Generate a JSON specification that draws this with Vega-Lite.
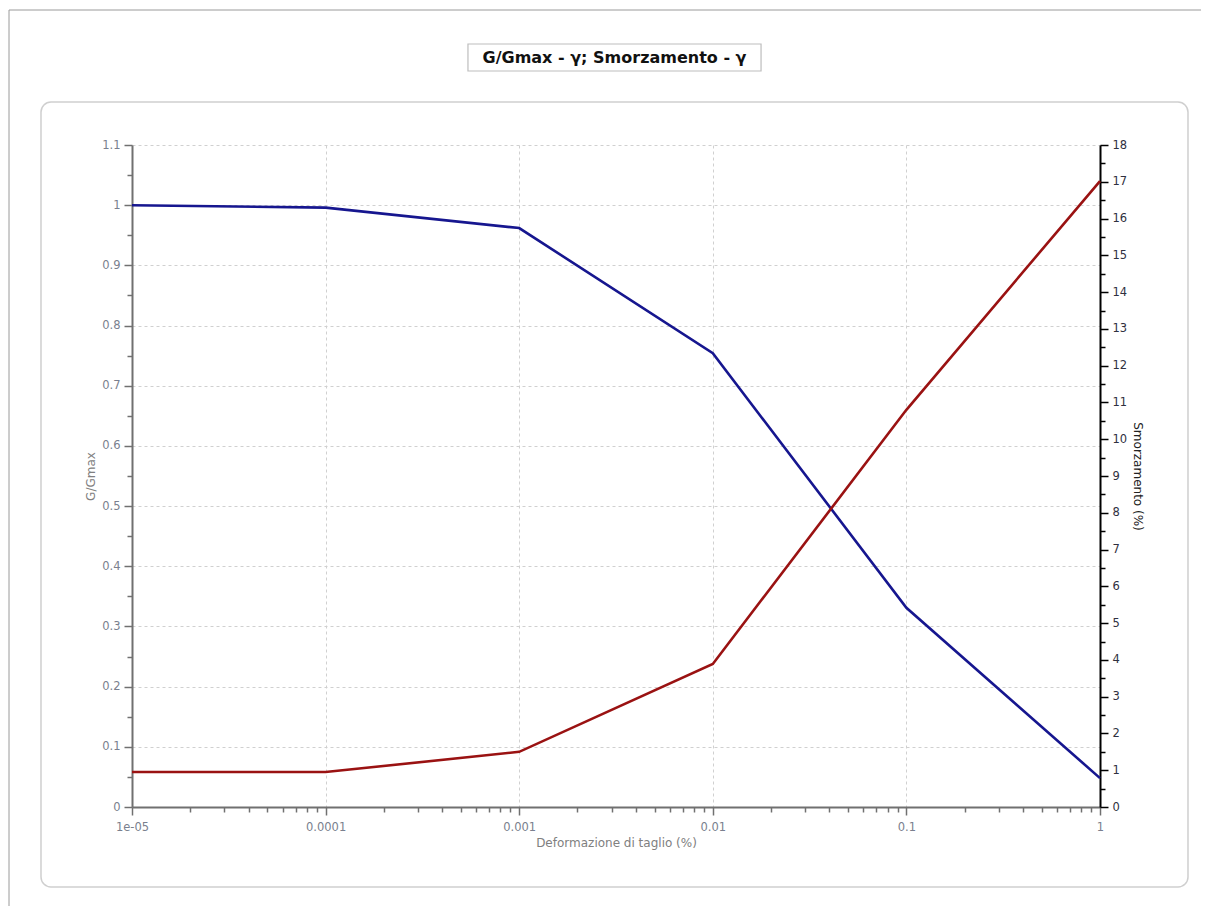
{
  "$schema": "https://vega.github.io/schema/vega-lite/v6.json",
  "padding": {"left": 8, "top": 9, "right": 5, "bottom": 4},
  "width": 968,
  "height": 662,
  "config": {"view": {"stroke": null}, "font": "DejaVu Sans"},
  "data": {"values": [
    {"gamma": 0.00001, "G": 1.0, "D": 0.95},
    {"gamma": 0.0001, "G": 0.996, "D": 0.95},
    {"gamma": 0.001, "G": 0.962, "D": 1.5},
    {"gamma": 0.01, "G": 0.754, "D": 3.89},
    {"gamma": 0.1, "G": 0.331, "D": 10.8},
    {"gamma": 1, "G": 0.048, "D": 17.02}
  ]},
  "layer": [
    {
      "layer": [
        {
          "data": {"values": [{}]},
          "mark": {"type": "rule", "color": "#9a9a9a", "strokeWidth": 1, "clip": false},
          "encoding": {
            "x": {"datum": 0.000002316, "type": "quantitative", "scale": {"type": "log", "domain": [0.00001, 1]},
              "axis": {"title": "Deformazione di taglio (%)", "values": [0.00001, 0.00002, 0.00003, 0.00004, 0.00005, 0.00006, 0.00007, 0.00008, 0.00009, 0.0001, 0.0002, 0.0003, 0.0004, 0.0005, 0.0006, 0.0007, 0.0008, 0.0009, 0.001, 0.002, 0.003, 0.004, 0.005, 0.006, 0.007, 0.008, 0.009, 0.01, 0.02, 0.03, 0.04, 0.05, 0.06, 0.07, 0.08, 0.09, 0.1, 0.2, 0.3, 0.4, 0.5, 0.6, 0.7, 0.8, 0.9, 1], "labelExpr": "abs(log(datum.value)/LN10 - round(log(datum.value)/LN10)) < 0.000001 ? (datum.value < 0.00005 ? '1e-05' : toString(datum.value)) : ''", "labelFontSize": 11.5, "labelColor": "#7a7f8e", "labelPadding": 6, "labelFlush": false, "titleFontSize": 12, "titleFontWeight": "normal", "titleColor": "#808080", "titlePadding": 5, "domainColor": "#707070", "domainWidth": 2, "tickColor": "#707070", "tickWidth": 1.5, "tickSize": {"condition": {"test": "abs(log(datum.value)/LN10 - round(log(datum.value)/LN10)) < 0.000001", "value": 8}, "value": 5}, "grid": true, "gridColor": "#d0d0d0", "gridDash": [3, 3], "gridWidth": 1, "gridOpacity": {"condition": {"test": "abs(log(datum.value)/LN10 - round(log(datum.value)/LN10)) < 0.000001", "value": 1}, "value": 0}}},
            "x2": {"datum": 3.325},
            "y": {"datum": 1.3243, "type": "quantitative", "scale": {"domain": [0, 1.1], "nice": false, "zero": false},
              "axis": {"title": "G/Gmax", "values": [0, 0.05, 0.1, 0.15, 0.2, 0.25, 0.3, 0.35, 0.4, 0.45, 0.5, 0.55, 0.6, 0.65, 0.7, 0.75, 0.8, 0.85, 0.9, 0.95, 1, 1.05, 1.1], "format": "~g", "labelExpr": "abs(datum.value*10 - round(datum.value*10)) < 0.000001 ? datum.label : ''", "labelFontSize": 11.5, "labelColor": "#7a7f8e", "labelPadding": 4, "titleFontSize": 12, "titleFontWeight": "normal", "titleColor": "#808080", "titlePadding": 4, "domainColor": "#707070", "domainWidth": 2, "tickColor": "#707070", "tickWidth": 1.5, "tickSize": {"condition": {"test": "abs(datum.value*10 - round(datum.value*10)) < 0.000001", "value": 8}, "value": 5}, "grid": true, "gridColor": "#d0d0d0", "gridDash": [3, 3], "gridWidth": 1, "gridOpacity": {"condition": {"test": "abs(datum.value*10 - round(datum.value*10)) < 0.000001", "value": 1}, "value": 0}}}
          }
        },
        {
          "data": {"values": [{}]},
          "mark": {"type": "rule", "color": "#9a9a9a", "strokeWidth": 1, "clip": false},
          "encoding": {
            "x": {"datum": 0.000002316, "type": "quantitative", "scale": {"type": "log", "domain": [0.00001, 1]},
              "axis": {"title": "Deformazione di taglio (%)", "values": [0.00001, 0.00002, 0.00003, 0.00004, 0.00005, 0.00006, 0.00007, 0.00008, 0.00009, 0.0001, 0.0002, 0.0003, 0.0004, 0.0005, 0.0006, 0.0007, 0.0008, 0.0009, 0.001, 0.002, 0.003, 0.004, 0.005, 0.006, 0.007, 0.008, 0.009, 0.01, 0.02, 0.03, 0.04, 0.05, 0.06, 0.07, 0.08, 0.09, 0.1, 0.2, 0.3, 0.4, 0.5, 0.6, 0.7, 0.8, 0.9, 1], "labelExpr": "abs(log(datum.value)/LN10 - round(log(datum.value)/LN10)) < 0.000001 ? (datum.value < 0.00005 ? '1e-05' : toString(datum.value)) : ''", "labelFontSize": 11.5, "labelColor": "#7a7f8e", "labelPadding": 6, "labelFlush": false, "titleFontSize": 12, "titleFontWeight": "normal", "titleColor": "#808080", "titlePadding": 5, "domainColor": "#707070", "domainWidth": 2, "tickColor": "#707070", "tickWidth": 1.5, "tickSize": {"condition": {"test": "abs(log(datum.value)/LN10 - round(log(datum.value)/LN10)) < 0.000001", "value": 8}, "value": 5}, "grid": true, "gridColor": "#d0d0d0", "gridDash": [3, 3], "gridWidth": 1, "gridOpacity": {"condition": {"test": "abs(log(datum.value)/LN10 - round(log(datum.value)/LN10)) < 0.000001", "value": 1}, "value": 0}}},
            "y": {"datum": 1.3243, "type": "quantitative", "scale": {"domain": [0, 1.1], "nice": false, "zero": false},
              "axis": {"title": "G/Gmax", "values": [0, 0.05, 0.1, 0.15, 0.2, 0.25, 0.3, 0.35, 0.4, 0.45, 0.5, 0.55, 0.6, 0.65, 0.7, 0.75, 0.8, 0.85, 0.9, 0.95, 1, 1.05, 1.1], "format": "~g", "labelExpr": "abs(datum.value*10 - round(datum.value*10)) < 0.000001 ? datum.label : ''", "labelFontSize": 11.5, "labelColor": "#7a7f8e", "labelPadding": 4, "titleFontSize": 12, "titleFontWeight": "normal", "titleColor": "#808080", "titlePadding": 4, "domainColor": "#707070", "domainWidth": 2, "tickColor": "#707070", "tickWidth": 1.5, "tickSize": {"condition": {"test": "abs(datum.value*10 - round(datum.value*10)) < 0.000001", "value": 8}, "value": 5}, "grid": true, "gridColor": "#d0d0d0", "gridDash": [3, 3], "gridWidth": 1, "gridOpacity": {"condition": {"test": "abs(datum.value*10 - round(datum.value*10)) < 0.000001", "value": 1}, "value": 0}}},
            "y2": {"datum": -0.1645}
          }
        },
        {
          "data": {"values": [{}]},
          "mark": {"type": "rect", "filled": false, "stroke": "#cfcfcf", "strokeWidth": 1.5, "cornerRadius": 10, "clip": false},
          "encoding": {
            "x": {"datum": 0.000003388, "type": "quantitative", "scale": {"type": "log", "domain": [0.00001, 1]},
              "axis": {"title": "Deformazione di taglio (%)", "values": [0.00001, 0.00002, 0.00003, 0.00004, 0.00005, 0.00006, 0.00007, 0.00008, 0.00009, 0.0001, 0.0002, 0.0003, 0.0004, 0.0005, 0.0006, 0.0007, 0.0008, 0.0009, 0.001, 0.002, 0.003, 0.004, 0.005, 0.006, 0.007, 0.008, 0.009, 0.01, 0.02, 0.03, 0.04, 0.05, 0.06, 0.07, 0.08, 0.09, 0.1, 0.2, 0.3, 0.4, 0.5, 0.6, 0.7, 0.8, 0.9, 1], "labelExpr": "abs(log(datum.value)/LN10 - round(log(datum.value)/LN10)) < 0.000001 ? (datum.value < 0.00005 ? '1e-05' : toString(datum.value)) : ''", "labelFontSize": 11.5, "labelColor": "#7a7f8e", "labelPadding": 6, "labelFlush": false, "titleFontSize": 12, "titleFontWeight": "normal", "titleColor": "#808080", "titlePadding": 5, "domainColor": "#707070", "domainWidth": 2, "tickColor": "#707070", "tickWidth": 1.5, "tickSize": {"condition": {"test": "abs(log(datum.value)/LN10 - round(log(datum.value)/LN10)) < 0.000001", "value": 8}, "value": 5}, "grid": true, "gridColor": "#d0d0d0", "gridDash": [3, 3], "gridWidth": 1, "gridOpacity": {"condition": {"test": "abs(log(datum.value)/LN10 - round(log(datum.value)/LN10)) < 0.000001", "value": 1}, "value": 0}}},
            "x2": {"datum": 2.848},
            "y": {"datum": 1.1714, "type": "quantitative", "scale": {"domain": [0, 1.1], "nice": false, "zero": false},
              "axis": {"title": "G/Gmax", "values": [0, 0.05, 0.1, 0.15, 0.2, 0.25, 0.3, 0.35, 0.4, 0.45, 0.5, 0.55, 0.6, 0.65, 0.7, 0.75, 0.8, 0.85, 0.9, 0.95, 1, 1.05, 1.1], "format": "~g", "labelExpr": "abs(datum.value*10 - round(datum.value*10)) < 0.000001 ? datum.label : ''", "labelFontSize": 11.5, "labelColor": "#7a7f8e", "labelPadding": 4, "titleFontSize": 12, "titleFontWeight": "normal", "titleColor": "#808080", "titlePadding": 4, "domainColor": "#707070", "domainWidth": 2, "tickColor": "#707070", "tickWidth": 1.5, "tickSize": {"condition": {"test": "abs(datum.value*10 - round(datum.value*10)) < 0.000001", "value": 8}, "value": 5}, "grid": true, "gridColor": "#d0d0d0", "gridDash": [3, 3], "gridWidth": 1, "gridOpacity": {"condition": {"test": "abs(datum.value*10 - round(datum.value*10)) < 0.000001", "value": 1}, "value": 0}}},
            "y2": {"datum": -0.1329}
          }
        },
        {
          "data": {"values": [{}]},
          "mark": {"type": "rect", "fill": "#ffffff", "stroke": "#bdbdbd", "strokeWidth": 1.2, "clip": false},
          "encoding": {
            "x": {"datum": 0.0005437, "type": "quantitative", "scale": {"type": "log", "domain": [0.00001, 1]},
              "axis": {"title": "Deformazione di taglio (%)", "values": [0.00001, 0.00002, 0.00003, 0.00004, 0.00005, 0.00006, 0.00007, 0.00008, 0.00009, 0.0001, 0.0002, 0.0003, 0.0004, 0.0005, 0.0006, 0.0007, 0.0008, 0.0009, 0.001, 0.002, 0.003, 0.004, 0.005, 0.006, 0.007, 0.008, 0.009, 0.01, 0.02, 0.03, 0.04, 0.05, 0.06, 0.07, 0.08, 0.09, 0.1, 0.2, 0.3, 0.4, 0.5, 0.6, 0.7, 0.8, 0.9, 1], "labelExpr": "abs(log(datum.value)/LN10 - round(log(datum.value)/LN10)) < 0.000001 ? (datum.value < 0.00005 ? '1e-05' : toString(datum.value)) : ''", "labelFontSize": 11.5, "labelColor": "#7a7f8e", "labelPadding": 6, "labelFlush": false, "titleFontSize": 12, "titleFontWeight": "normal", "titleColor": "#808080", "titlePadding": 5, "domainColor": "#707070", "domainWidth": 2, "tickColor": "#707070", "tickWidth": 1.5, "tickSize": {"condition": {"test": "abs(log(datum.value)/LN10 - round(log(datum.value)/LN10)) < 0.000001", "value": 8}, "value": 5}, "grid": true, "gridColor": "#d0d0d0", "gridDash": [3, 3], "gridWidth": 1, "gridOpacity": {"condition": {"test": "abs(log(datum.value)/LN10 - round(log(datum.value)/LN10)) < 0.000001", "value": 1}, "value": 0}}},
            "x2": {"datum": 0.01775},
            "y": {"datum": 1.2678, "type": "quantitative", "scale": {"domain": [0, 1.1], "nice": false, "zero": false},
              "axis": {"title": "G/Gmax", "values": [0, 0.05, 0.1, 0.15, 0.2, 0.25, 0.3, 0.35, 0.4, 0.45, 0.5, 0.55, 0.6, 0.65, 0.7, 0.75, 0.8, 0.85, 0.9, 0.95, 1, 1.05, 1.1], "format": "~g", "labelExpr": "abs(datum.value*10 - round(datum.value*10)) < 0.000001 ? datum.label : ''", "labelFontSize": 11.5, "labelColor": "#7a7f8e", "labelPadding": 4, "titleFontSize": 12, "titleFontWeight": "normal", "titleColor": "#808080", "titlePadding": 4, "domainColor": "#707070", "domainWidth": 2, "tickColor": "#707070", "tickWidth": 1.5, "tickSize": {"condition": {"test": "abs(datum.value*10 - round(datum.value*10)) < 0.000001", "value": 8}, "value": 5}, "grid": true, "gridColor": "#d0d0d0", "gridDash": [3, 3], "gridWidth": 1, "gridOpacity": {"condition": {"test": "abs(datum.value*10 - round(datum.value*10)) < 0.000001", "value": 1}, "value": 0}}},
            "y2": {"datum": 1.2230}
          }
        },
        {
          "data": {"values": [{}]},
          "mark": {"type": "text", "text": "G/Gmax - γ; Smorzamento - γ", "font": "DejaVu Sans", "fontWeight": "bold", "fontSize": 16, "color": "#111111", "align": "center", "baseline": "middle", "clip": false},
          "encoding": {
            "x": {"datum": 0.003107, "type": "quantitative", "scale": {"type": "log", "domain": [0.00001, 1]},
              "axis": {"title": "Deformazione di taglio (%)", "values": [0.00001, 0.00002, 0.00003, 0.00004, 0.00005, 0.00006, 0.00007, 0.00008, 0.00009, 0.0001, 0.0002, 0.0003, 0.0004, 0.0005, 0.0006, 0.0007, 0.0008, 0.0009, 0.001, 0.002, 0.003, 0.004, 0.005, 0.006, 0.007, 0.008, 0.009, 0.01, 0.02, 0.03, 0.04, 0.05, 0.06, 0.07, 0.08, 0.09, 0.1, 0.2, 0.3, 0.4, 0.5, 0.6, 0.7, 0.8, 0.9, 1], "labelExpr": "abs(log(datum.value)/LN10 - round(log(datum.value)/LN10)) < 0.000001 ? (datum.value < 0.00005 ? '1e-05' : toString(datum.value)) : ''", "labelFontSize": 11.5, "labelColor": "#7a7f8e", "labelPadding": 6, "labelFlush": false, "titleFontSize": 12, "titleFontWeight": "normal", "titleColor": "#808080", "titlePadding": 5, "domainColor": "#707070", "domainWidth": 2, "tickColor": "#707070", "tickWidth": 1.5, "tickSize": {"condition": {"test": "abs(log(datum.value)/LN10 - round(log(datum.value)/LN10)) < 0.000001", "value": 8}, "value": 5}, "grid": true, "gridColor": "#d0d0d0", "gridDash": [3, 3], "gridWidth": 1, "gridOpacity": {"condition": {"test": "abs(log(datum.value)/LN10 - round(log(datum.value)/LN10)) < 0.000001", "value": 1}, "value": 0}}},
            "y": {"datum": 1.2446, "type": "quantitative", "scale": {"domain": [0, 1.1], "nice": false, "zero": false},
              "axis": {"title": "G/Gmax", "values": [0, 0.05, 0.1, 0.15, 0.2, 0.25, 0.3, 0.35, 0.4, 0.45, 0.5, 0.55, 0.6, 0.65, 0.7, 0.75, 0.8, 0.85, 0.9, 0.95, 1, 1.05, 1.1], "format": "~g", "labelExpr": "abs(datum.value*10 - round(datum.value*10)) < 0.000001 ? datum.label : ''", "labelFontSize": 11.5, "labelColor": "#7a7f8e", "labelPadding": 4, "titleFontSize": 12, "titleFontWeight": "normal", "titleColor": "#808080", "titlePadding": 4, "domainColor": "#707070", "domainWidth": 2, "tickColor": "#707070", "tickWidth": 1.5, "tickSize": {"condition": {"test": "abs(datum.value*10 - round(datum.value*10)) < 0.000001", "value": 8}, "value": 5}, "grid": true, "gridColor": "#d0d0d0", "gridDash": [3, 3], "gridWidth": 1, "gridOpacity": {"condition": {"test": "abs(datum.value*10 - round(datum.value*10)) < 0.000001", "value": 1}, "value": 0}}}
          }
        },
        {
          "mark": {"type": "line", "color": "#16168f", "strokeWidth": 2.6},
          "encoding": {
            "x": {"field": "gamma", "type": "quantitative", "scale": {"type": "log", "domain": [0.00001, 1]},
              "axis": {"title": "Deformazione di taglio (%)", "values": [0.00001, 0.00002, 0.00003, 0.00004, 0.00005, 0.00006, 0.00007, 0.00008, 0.00009, 0.0001, 0.0002, 0.0003, 0.0004, 0.0005, 0.0006, 0.0007, 0.0008, 0.0009, 0.001, 0.002, 0.003, 0.004, 0.005, 0.006, 0.007, 0.008, 0.009, 0.01, 0.02, 0.03, 0.04, 0.05, 0.06, 0.07, 0.08, 0.09, 0.1, 0.2, 0.3, 0.4, 0.5, 0.6, 0.7, 0.8, 0.9, 1], "labelExpr": "abs(log(datum.value)/LN10 - round(log(datum.value)/LN10)) < 0.000001 ? (datum.value < 0.00005 ? '1e-05' : toString(datum.value)) : ''", "labelFontSize": 11.5, "labelColor": "#7a7f8e", "labelPadding": 6, "labelFlush": false, "titleFontSize": 12, "titleFontWeight": "normal", "titleColor": "#808080", "titlePadding": 5, "domainColor": "#707070", "domainWidth": 2, "tickColor": "#707070", "tickWidth": 1.5, "tickSize": {"condition": {"test": "abs(log(datum.value)/LN10 - round(log(datum.value)/LN10)) < 0.000001", "value": 8}, "value": 5}, "grid": true, "gridColor": "#d0d0d0", "gridDash": [3, 3], "gridWidth": 1, "gridOpacity": {"condition": {"test": "abs(log(datum.value)/LN10 - round(log(datum.value)/LN10)) < 0.000001", "value": 1}, "value": 0}}},
            "y": {"field": "G", "type": "quantitative", "scale": {"domain": [0, 1.1], "nice": false, "zero": false},
              "axis": {"title": "G/Gmax", "values": [0, 0.05, 0.1, 0.15, 0.2, 0.25, 0.3, 0.35, 0.4, 0.45, 0.5, 0.55, 0.6, 0.65, 0.7, 0.75, 0.8, 0.85, 0.9, 0.95, 1, 1.05, 1.1], "format": "~g", "labelExpr": "abs(datum.value*10 - round(datum.value*10)) < 0.000001 ? datum.label : ''", "labelFontSize": 11.5, "labelColor": "#7a7f8e", "labelPadding": 4, "titleFontSize": 12, "titleFontWeight": "normal", "titleColor": "#808080", "titlePadding": 4, "domainColor": "#707070", "domainWidth": 2, "tickColor": "#707070", "tickWidth": 1.5, "tickSize": {"condition": {"test": "abs(datum.value*10 - round(datum.value*10)) < 0.000001", "value": 8}, "value": 5}, "grid": true, "gridColor": "#d0d0d0", "gridDash": [3, 3], "gridWidth": 1, "gridOpacity": {"condition": {"test": "abs(datum.value*10 - round(datum.value*10)) < 0.000001", "value": 1}, "value": 0}}}
          }
        }
      ]
    },
    {
      "mark": {"type": "line", "color": "#9a1212", "strokeWidth": 2.6},
      "encoding": {
        "x": {"field": "gamma", "type": "quantitative", "scale": {"type": "log", "domain": [0.00001, 1]},
          "axis": {"title": "Deformazione di taglio (%)", "values": [0.00001, 0.00002, 0.00003, 0.00004, 0.00005, 0.00006, 0.00007, 0.00008, 0.00009, 0.0001, 0.0002, 0.0003, 0.0004, 0.0005, 0.0006, 0.0007, 0.0008, 0.0009, 0.001, 0.002, 0.003, 0.004, 0.005, 0.006, 0.007, 0.008, 0.009, 0.01, 0.02, 0.03, 0.04, 0.05, 0.06, 0.07, 0.08, 0.09, 0.1, 0.2, 0.3, 0.4, 0.5, 0.6, 0.7, 0.8, 0.9, 1], "labelExpr": "abs(log(datum.value)/LN10 - round(log(datum.value)/LN10)) < 0.000001 ? (datum.value < 0.00005 ? '1e-05' : toString(datum.value)) : ''", "labelFontSize": 11.5, "labelColor": "#7a7f8e", "labelPadding": 6, "labelFlush": false, "titleFontSize": 12, "titleFontWeight": "normal", "titleColor": "#808080", "titlePadding": 5, "domainColor": "#707070", "domainWidth": 2, "tickColor": "#707070", "tickWidth": 1.5, "tickSize": {"condition": {"test": "abs(log(datum.value)/LN10 - round(log(datum.value)/LN10)) < 0.000001", "value": 8}, "value": 5}, "grid": true, "gridColor": "#d0d0d0", "gridDash": [3, 3], "gridWidth": 1, "gridOpacity": {"condition": {"test": "abs(log(datum.value)/LN10 - round(log(datum.value)/LN10)) < 0.000001", "value": 1}, "value": 0}}},
        "y": {
          "field": "D", "type": "quantitative",
          "scale": {"domain": [0, 18], "nice": false, "zero": false},
          "axis": {
            "orient": "right",
            "title": "Smorzamento (%)",
            "values": [0, 0.5, 1, 1.5, 2, 2.5, 3, 3.5, 4, 4.5, 5, 5.5, 6, 6.5, 7, 7.5, 8, 8.5, 9, 9.5, 10, 10.5, 11, 11.5, 12, 12.5, 13, 13.5, 14, 14.5, 15, 15.5, 16, 16.5, 17, 17.5, 18],
            "format": "~g",
            "labelExpr": "datum.value % 1 == 0 ? datum.label : ''",
            "labelFontSize": 11.5, "labelColor": "#2f3040", "labelPadding": 4,
            "titleFontSize": 12, "titleFontWeight": "normal", "titleColor": "#222222", "titlePadding": 4,
            "domainColor": "#000000", "domainWidth": 2,
            "tickColor": "#000000", "tickWidth": 1.5,
            "tickSize": {"condition": {"test": "datum.value % 1 == 0", "value": 8}, "value": 5},
            "grid": false
          }
        }
      }
    }
  ],
  "resolve": {"scale": {"y": "independent"}, "axis": {"y": "independent"}}
}
